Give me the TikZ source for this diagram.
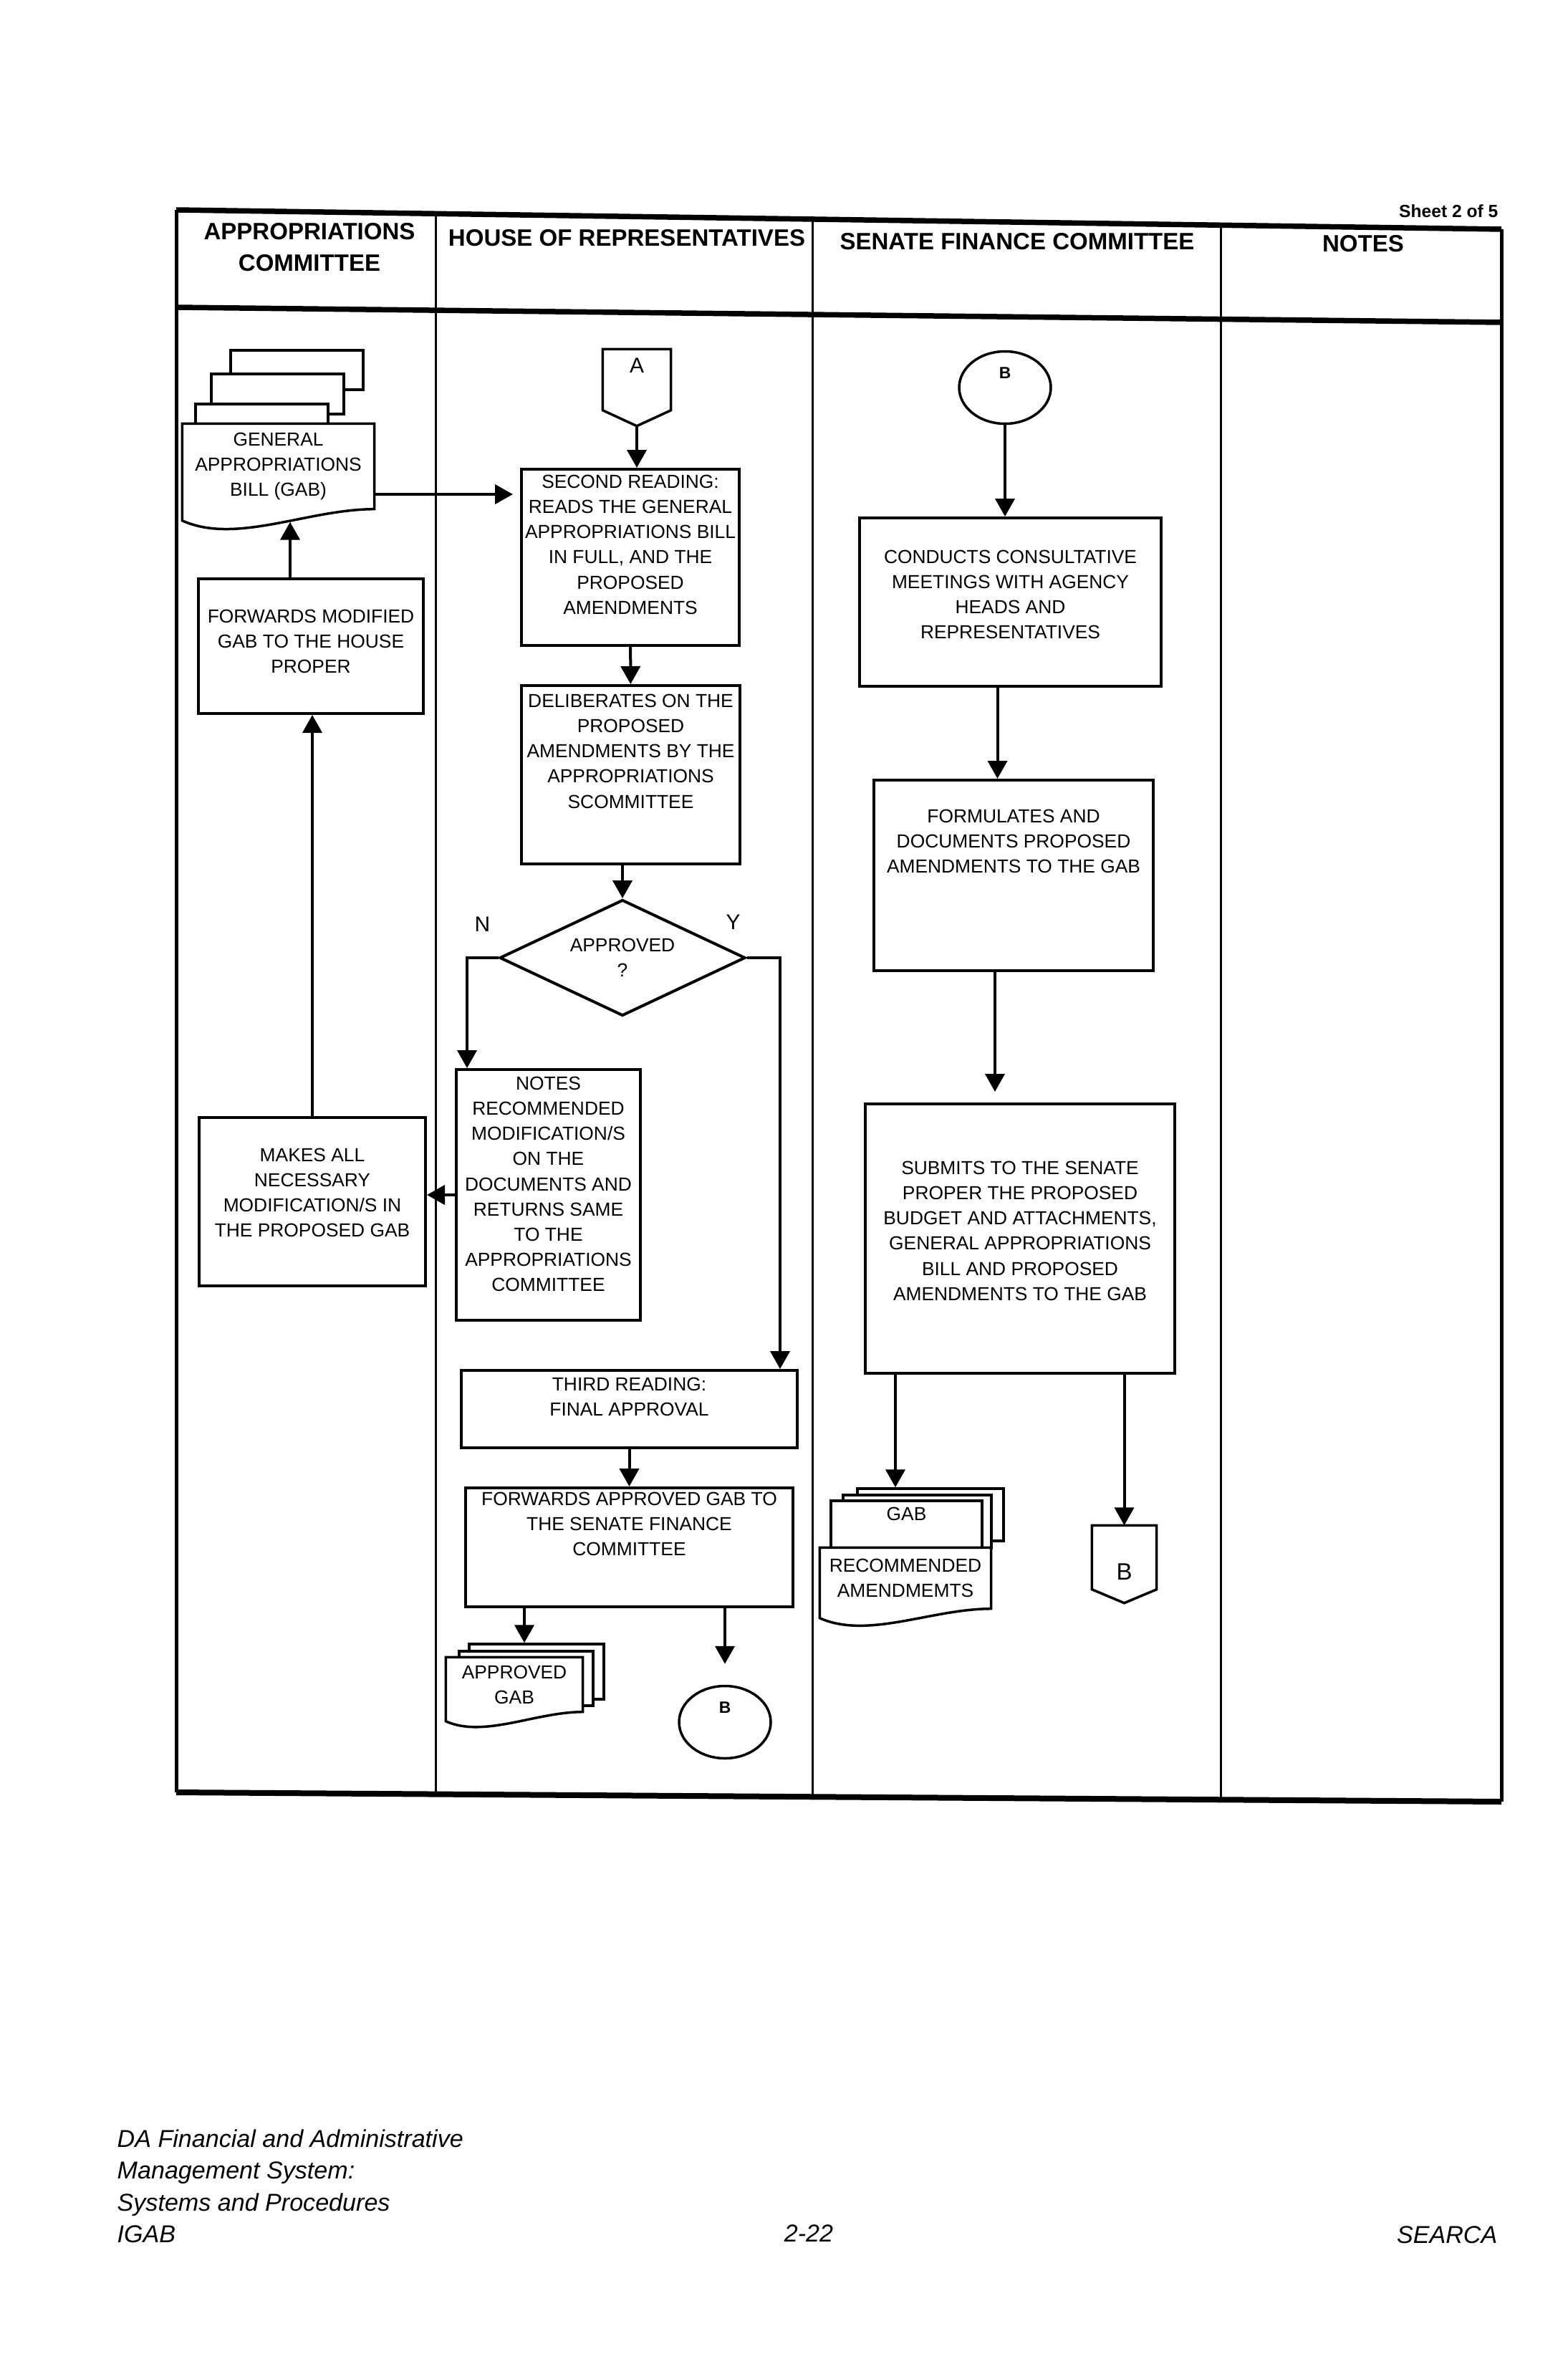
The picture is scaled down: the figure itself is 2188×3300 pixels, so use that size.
\documentclass[tikz,border=0pt]{standalone}
\usepackage{fontspec}
\setmainfont{Liberation Sans}
\usetikzlibrary{positioning, arrows.meta, shapes.geometric}

\newcommand{\boxfont}{\fontsize{7.5}{10}\selectfont}
\newcommand{\tbox}[4]{\parbox[c][#2][t]{#1}{\centering\rule{0pt}{#3}#4\par}}

\begin{document}
\begin{tikzpicture}[x=0.1mm, y=-0.1mm,
    proc/.style={draw, line width=0.4mm, inner sep=0pt, font=\boxfont},
    decision/.style={draw, diamond, shape aspect=2, line width=0.4mm, inner sep=0pt, align=center, font=\boxfont, minimum width=3.43cm, minimum height=1.62cm},
    doc/.style={fill=white, inner sep=0pt, align=center, font=\boxfont},
    page/.style={draw, fill=white, line width=0.35mm, inner sep=0pt, font=\boxfont},
    docline/.style={line width=0.35mm},
    conn/.style={draw, ellipse, line width=0.35mm, inner sep=0pt, minimum width=1.28cm, minimum height=1.01cm, font=\fontsize{6.5}{8}\selectfont\bfseries, text depth=0.4cm},
    offpage/.style={inner sep=0pt, font=\fontsize{8.5}{10}\selectfont},
    arrow/.style={-{Triangle[length=2.5mm, width=2.7mm]}, line width=0.4mm},
    header/.style={font=\fontsize{9.4}{12.5}\selectfont\bfseries, align=center},
    yn/.style={font=\fontsize{8.5}{10}\selectfont},
    footer/.style={font=\fontsize{9.7}{12.6}\selectfont\itshape, align=left, inner sep=0pt},
]
    \path[use as bounding box, fill=white] (0,0) rectangle (2188,3300);

    % Frame and lanes (the sheet is scanned slightly askew)
    \draw[line width=0.75mm] (246,293) -- (2096,320);
    \draw[line width=0.75mm] (246,429) -- (2096,450);
    \draw[line width=0.8mm] (246,2502) -- (2096,2515);
    \draw[line width=0.5mm] (246,293) -- (246,2502);
    \draw[line width=0.5mm] (2096,320) -- (2096,2515);
    \foreach \x/\ya/\yb in {608/298/2505, 1134/306/2508, 1704/314/2512}
        \draw[line width=0.3mm] (\x,\ya) -- (\x,\yb);

    \node[font=\fontsize{7}{8}\selectfont\bfseries, anchor=east, inner sep=0pt] (sheet) at (2092,295) {Sheet 2 of 5};
    \node[header] (hdrapp) at (432,345) {APPROPRIATIONS\\COMMITTEE};
    \node[header] (hdrhouse) at (875,332) {HOUSE OF REPRESENTATIVES};
    \node[header] (hdrsenate) at (1420,337) {SENATE FINANCE COMMITTEE};
    \node[header] (hdrnotes) at (1903,340) {NOTES};

    % Appropriations Committee
    \node[page, minimum width=1.85cm, minimum height=0.55cm] (gabp1) at (414.5,516.5) {};
    \node[page, minimum width=1.85cm, minimum height=0.56cm] (gabp2) at (387.5,550) {};
    \node[page, minimum width=1.85cm, minimum height=0.56cm] (gabp3) at (365.5,592) {};
    \node[doc, minimum width=2.67cm, minimum height=1.18cm] (gab) at (388.5,651) {GENERAL\\APPROPRIATIONS\\BILL (GAB)};
    \draw[docline] (gab.north west) -- (gab.north east) -- (gab.south east)
        .. controls +(-93,0) and +(75,34) .. ([yshift=-0.16cm]gab.south west) -- cycle;

    \node[proc] (fwdmod) at (434,902) {\tbox{3.14cm}{1.88cm}{0.615cm}{FORWARDS MODIFIED\\GAB TO THE HOUSE\\PROPER}};
    \node[proc] (makeall) at (436,1677.5) {\tbox{3.16cm}{2.35cm}{0.615cm}{MAKES ALL\\NECESSARY\\MODIFICATION/S IN\\THE PROPOSED GAB}};

    % House of Representatives
    \node[offpage, minimum width=0.94cm, minimum height=0.84cm, text depth=0.4cm] (conA) at (889,530) {A};
    \draw[docline] (conA.north west) -- (conA.north east) -- (conA.south east)
        -- ([yshift=-0.22cm]conA.south) -- (conA.south west) -- cycle;
    \coordinate (tipA) at ([yshift=-0.22cm]conA.south);

    \node[proc] (second) at (880,778) {\tbox{3.04cm}{2.46cm}{0.265cm}{SECOND READING:\\READS THE GENERAL\\APPROPRIATIONS BILL\\IN FULL, AND THE\\PROPOSED\\AMENDMENTS}};
    \node[proc] (delib) at (880.5,1081.5) {\tbox{3.05cm}{2.49cm}{0.305cm}{DELIBERATES ON THE\\PROPOSED\\AMENDMENTS BY THE\\APPROPRIATIONS\\SCOMMITTEE}};
    \node[decision] (approved) at (869,1337) {APPROVED\\?};
    \node[yn] (lblN) at ([xshift=-0.22cm, yshift=0.47cm]approved.west) {N};
    \node[yn] (lblY) at ([xshift=-0.19cm, yshift=0.5cm]approved.east) {Y};

    \node[proc] (notes) at (765.5,1668) {\tbox{2.57cm}{3.5cm}{0.285cm}{NOTES\\RECOMMENDED\\MODIFICATION/S\\ON THE\\DOCUMENTS AND\\RETURNS SAME\\TO THE\\APPROPRIATIONS\\COMMITTEE}};
    \node[proc] (third) at (878.5,1967) {\tbox{4.69cm}{1.08cm}{0.285cm}{THIRD READING:\\FINAL APPROVAL}};
    \node[proc] (fwdapp) at (878.5,2160) {\tbox{4.57cm}{1.66cm}{0.245cm}{FORWARDS APPROVED GAB TO\\THE SENATE FINANCE\\COMMITTEE}};

    \node[page, minimum width=1.88cm, minimum height=0.77cm] (appp1) at (749,2333.5) {};
    \node[page, minimum width=1.87cm, minimum height=0.76cm] (appp2) at (734.5,2343) {};
    \node[doc, minimum width=1.9cm, minimum height=0.75cm] (appgab) at (718,2351.5) {APPROVED\\GAB};
    \draw[docline] (appgab.north west) -- (appgab.north east) -- (appgab.south east)
        .. controls +(-66,0) and +(53,24) .. ([yshift=-0.13cm]appgab.south west) -- cycle;

    \node[conn] (Bb) at (1012,2404) {B};

    % Senate Finance Committee
    \node[conn] (Bt) at (1403,541) {B};
    \node[proc] (conduct) at (1410.5,840.5) {\tbox{4.21cm}{2.35cm}{0.635cm}{CONDUCTS CONSULTATIVE\\MEETINGS WITH AGENCY\\HEADS AND\\REPRESENTATIVES}};
    \node[proc] (formul) at (1415,1222) {\tbox{3.9cm}{2.66cm}{0.595cm}{FORMULATES AND\\DOCUMENTS PROPOSED\\AMENDMENTS TO THE GAB}};
    \node[proc] (submit) at (1424,1729) {\tbox{4.32cm}{3.76cm}{0.985cm}{SUBMITS TO THE SENATE\\PROPER THE PROPOSED\\BUDGET AND ATTACHMENTS,\\GENERAL APPROPRIATIONS\\BILL AND PROPOSED\\AMENDMENTS TO THE GAB}};

    \node[page, minimum width=2.04cm, minimum height=0.73cm] (recp1) at (1299,2114.5) {};
    \node[page, minimum width=2.07cm, minimum height=0.74cm] (recp2) at (1280.5,2124) {};
    \node[page] (recp3) at (1265.5,2128) {\tbox{2.11cm}{0.66cm}{0.275cm}{GAB}};
    \node[doc, minimum width=2.38cm, minimum height=0.84cm] (rec) at (1264,2203) {RECOMMENDED\\AMENDMEMTS};
    \draw[docline] (rec.north west) -- (rec.north east) -- (rec.south east)
        .. controls +(-83,0) and +(67,30) .. ([yshift=-0.13cm]rec.south west) -- cycle;

    \node[offpage, font=\fontsize{9.4}{11}\selectfont, minimum width=0.89cm, minimum height=0.88cm, text height=0.62cm] (conBs) at (1569.5,2174) {B};
    \draw[docline] (conBs.north west) -- (conBs.north east) -- (conBs.south east)
        -- ([yshift=-0.19cm]conBs.south) -- (conBs.south west) -- cycle;

    % Flow in the House
    \draw[arrow] (tipA) -- (tipA |- second.north);
    \draw[arrow, shorten >=0.1cm] ([yshift=-0.39cm]gab.east) -- ([yshift=-0.39cm]gab.east -| second.west);
    \draw[arrow] (second) -- (delib);
    \draw[arrow] (delib.south -| approved.north) -- (approved.north);
    \draw[arrow] (approved.west) -| ([xshift=0.17cm]notes.north west);
    \draw[arrow] (approved.east) -| ([xshift=-0.26cm]third.north east);
    \draw[arrow] (third) -- (fwdapp);
    \coordinate (ap) at ([xshift=-0.17cm]appp1.north);
    \draw[arrow] (ap |- fwdapp.south) -- (ap);
    \draw[arrow, shorten >=0.29cm] (Bb.north |- fwdapp.south) -- (Bb.north);

    % Return to the committee
    \draw[arrow] (notes.west) -- (notes.west -| makeall.east);
    \draw[arrow] (makeall.north) -- (makeall.north |- fwdmod.south);
    \coordinate (fm) at ([xshift=-0.29cm]fwdmod.north);
    \draw[arrow, shorten >=0.18cm] (fm) -- (fm |- gab.south);

    % Flow in the Senate
    \draw[arrow] (Bt.south) -- (Bt.south |- conduct.north);
    \coordinate (cf) at ([xshift=-0.18cm]conduct.south);
    \draw[arrow] (cf) -- (cf |- formul.north);
    \coordinate (fs) at ([xshift=-0.26cm]formul.south);
    \draw[arrow, shorten >=0.15cm] (fs) -- (fs |- submit.north);
    \coordinate (sr) at ([xshift=0.44cm]submit.south west);
    \draw[arrow] (sr) -- (sr |- recp1.north);
    \draw[arrow] (conBs.north |- submit.south) -- (conBs.north);

    % Footer
    \node[footer, anchor=north west] (ftitle) at (163,2972) {DA Financial and Administrative\\Management System:\\Systems and Procedures\\IGAB};
    \node[footer] (fpage) at (1129,3118) {2-22};
    \node[footer, anchor=east] (forg) at (2091,3120) {SEARCA};
\end{tikzpicture}
\end{document}
